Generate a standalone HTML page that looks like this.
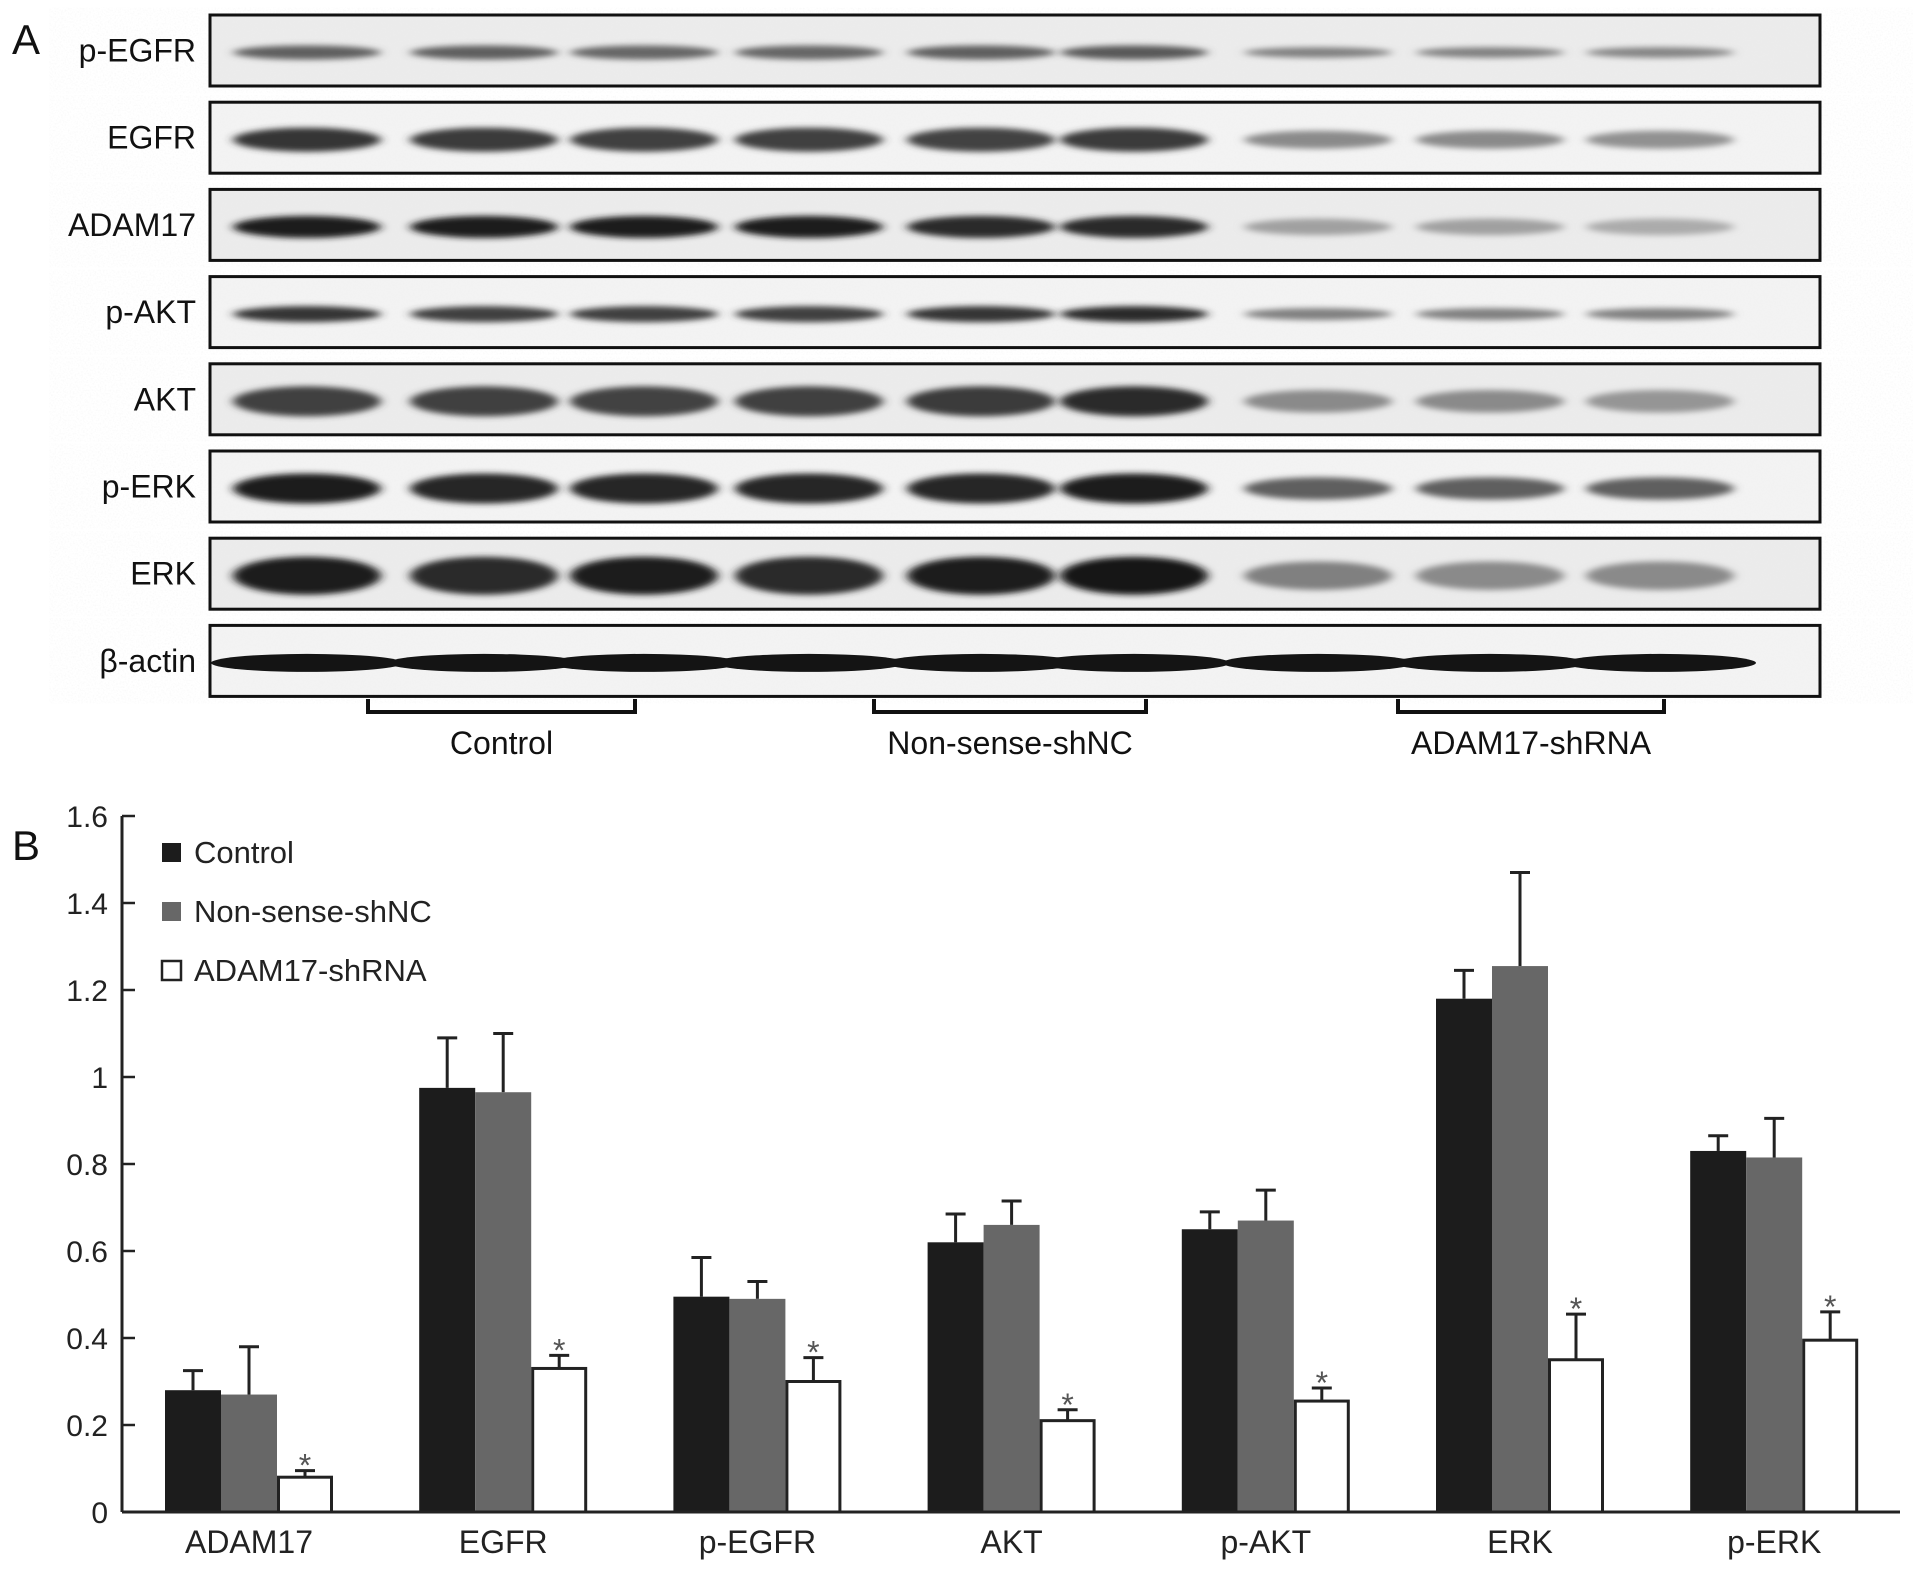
<!DOCTYPE html>
<html><head><meta charset="utf-8">
<style>
html,body{margin:0;padding:0;background:#fff;}
svg{display:block;font-family:"Liberation Sans",Arial,sans-serif;}
</style></head>
<body>
<svg id="fig" width="1913" height="1573" viewBox="0 0 1913 1573" xmlns="http://www.w3.org/2000/svg">
<defs>
  <filter id="blur" x="-20%" y="-100%" width="140%" height="300%"><feGaussianBlur stdDeviation="5 3"/></filter>
  <filter id="noise"><feTurbulence type="fractalNoise" baseFrequency="0.6" numOctaves="2" seed="3"/><feColorMatrix type="matrix" values="0 0 0 0 0.85  0 0 0 0 0.85  0 0 0 0 0.85  0 0 0 -1.6 0.9"/></filter>
</defs>
<g id="panelA"></g>
<g id="panelB"></g>
</svg>
<script>
const NS='http://www.w3.org/2000/svg';
function mk(tag,attrs,parent,text){const e=document.createElementNS(NS,tag);for(const k in attrs)e.setAttribute(k,attrs[k]);if(text!==undefined)e.textContent=text;parent.appendChild(e);return e;}

// ---------- Panel A data ----------
const blotRows=['p-EGFR','EGFR','ADAM17','p-AKT','AKT','p-ERK','ERK','β-actin'];
const bandDarkness=[
 [0.65,0.65,0.62,0.62,0.65,0.68,0.5,0.5,0.48],
 [0.85,0.82,0.8,0.8,0.78,0.82,0.45,0.45,0.42],
 [0.95,0.95,0.95,0.95,0.9,0.9,0.35,0.35,0.3],
 [0.85,0.8,0.8,0.8,0.85,0.9,0.5,0.5,0.5],
 [0.8,0.8,0.78,0.8,0.82,0.9,0.45,0.45,0.4],
 [0.95,0.92,0.92,0.92,0.92,0.95,0.65,0.65,0.65],
 [0.95,0.9,0.95,0.9,0.95,0.98,0.5,0.45,0.45],
 [1,1,1,1,1,1,1,1,1]];
const bandThickness=[14,24,22,16,30,30,38,18];
const groupLabels=['Control','Non-sense-shNC','ADAM17-shRNA'];

const A=document.getElementById('panelA');
mk('text',{x:12,y:54,'font-size':42,fill:'#111',},A,'A');
const boxL=210,boxR=1820,rowTop=15,rowPitch=87.2,rowH=71;
const laneX=[307,484,644,809,981,1134,1318,1490,1660];
blotRows.forEach((name,r)=>{
  const y=rowTop+r*rowPitch;
  const g=mk('g',{},A);
  
  
  mk('rect',{x:boxL,y:y,width:boxR-boxL,height:rowH,fill:r%2?'#f3f3f3':'#ebebeb'},g);
  mk('rect',{x:boxL,y:y,width:boxR-boxL,height:rowH,filter:'url(#noise)',opacity:0.5},g);
  const cy=y+rowH/2+2;
  laneX.forEach((lx,i)=>{
    const d=bandDarkness[r][i];
    const v=Math.round(235-215*d);
    const col='rgb('+v+','+v+','+v+')';
    const th=bandThickness[r]*(i>=6&&r<7?0.75:1);
    const b=mk('ellipse',{cx:lx,cy:cy,rx:(r===7?96:74),ry:th/2,fill:col,filter:r===7?'':'url(#blur)'},g);
    
    
  });
  mk('rect',{x:boxL,y:y,width:boxR-boxL,height:rowH,fill:'none',stroke:'#111','stroke-width':3},g);
  const t=mk('text',{x:196,y:y+rowH/2+11,'text-anchor':'end','font-size':32,fill:'#111'},A,name);
  
  
});
const brackets=[[368,635],[874,1146],[1398,1664]];
brackets.forEach((b,i)=>{
  const p=mk('path',{d:`M${b[0]},699 V712 H${b[1]} V699`,fill:'none',stroke:'#111','stroke-width':4},A);
  
  
  const t=mk('text',{x:(b[0]+b[1])/2,y:754,'text-anchor':'middle','font-size':32,fill:'#111'},A,groupLabels[i]);
  
  
});

// ---------- Panel B data ----------
const categories=['ADAM17','EGFR','p-EGFR','AKT','p-AKT','ERK','p-ERK'];
const seriesNames=['Control','Non-sense-shNC','ADAM17-shRNA'];
const controlVals=[0.28,0.975,0.495,0.62,0.65,1.18,0.83];
const controlErr=[0.045,0.115,0.09,0.065,0.04,0.065,0.035];
const shncVals=[0.27,0.965,0.49,0.66,0.67,1.255,0.815];
const shncErr=[0.11,0.135,0.04,0.055,0.07,0.215,0.09];
const shrnaVals=[0.08,0.33,0.30,0.21,0.255,0.35,0.395];
const shrnaErr=[0.015,0.03,0.055,0.025,0.03,0.105,0.065];
const yTicks=[0,0.2,0.4,0.6,0.8,1,1.2,1.4,1.6];
const yTickLabels=['0','0.2','0.4','0.6','0.8','1','1.2','1.4','1.6'];

const B=document.getElementById('panelB');
const x0=122,y0=1512,yMax=1.6,yTopPx=816,axisEnd=1900;
const yS=v=>y0-(v/yMax)*(y0-yTopPx);
const groupStart=165,groupPitch=254.2,barW=56;
const xS=(ci,si)=>groupStart+ci*groupPitch+si*barW;
const fills=['#1c1c1c','#676767','#ffffff'];
const vals=[controlVals,shncVals,shrnaVals];
const errs=[controlErr,shncErr,shrnaErr];

mk('text',{x:12,y:860,'font-size':42,fill:'#111',},B,'B');
yTicks.forEach((v,i)=>{
  const tk=mk('line',{x1:x0,x2:x0+13,y1:yS(v),y2:yS(v),stroke:'#222','stroke-width':2.5},B);
  
  
  const t=mk('text',{x:108,y:yS(v)+11,'text-anchor':'end','font-size':30,fill:'#222'},B,yTickLabels[i]);
  
  
});
categories.forEach((c,ci)=>{
  for(let si=0;si<3;si++){
    const v=vals[si][ci],e=errs[si][ci];
    const x=xS(ci,si),cx=x+barW/2;
    const el=mk('line',{x1:cx,x2:cx,y1:yS(v),y2:yS(v+e),stroke:'#222','stroke-width':3},B);
    
    
    const cap=mk('line',{x1:cx-10,x2:cx+10,y1:yS(v+e),y2:yS(v+e),stroke:'#222','stroke-width':3},B);
    
    
    const r=mk('rect',{x:si===2?x+1.5:x,y:yS(v),width:si===2?barW-3:barW,height:y0-yS(v),fill:fills[si],stroke:si===2?'#222':'none','stroke-width':3},B);
    
    
    if(si===2){
      const s=mk('text',{x:cx,y:yS(v+e)+6,'text-anchor':'middle','font-size':32,fill:'#555'},B,'*');
      
      
    }
  }
  const t=mk('text',{x:xS(ci,0)+1.5*barW,y:1553,'text-anchor':'middle','font-size':32,fill:'#222'},B,c);
  
  
});
mk('line',{x1:x0,x2:x0,y1:yTopPx,y2:y0,stroke:'#222','stroke-width':3,},B);
mk('line',{x1:x0,x2:axisEnd,y1:y0,y2:y0,stroke:'#222','stroke-width':3,},B);
seriesNames.forEach((n,i)=>{
  const cy=852+i*59;
  const g=mk('g',{},B);
  
  
  mk('rect',{x:162,y:cy-9,width:19,height:19,fill:fills[i],stroke:i===2?'#222':'none','stroke-width':2.5},g);
  mk('text',{x:194,y:cy+11,'font-size':31,fill:'#222'},g,n);
});
</script>
</body></html>
